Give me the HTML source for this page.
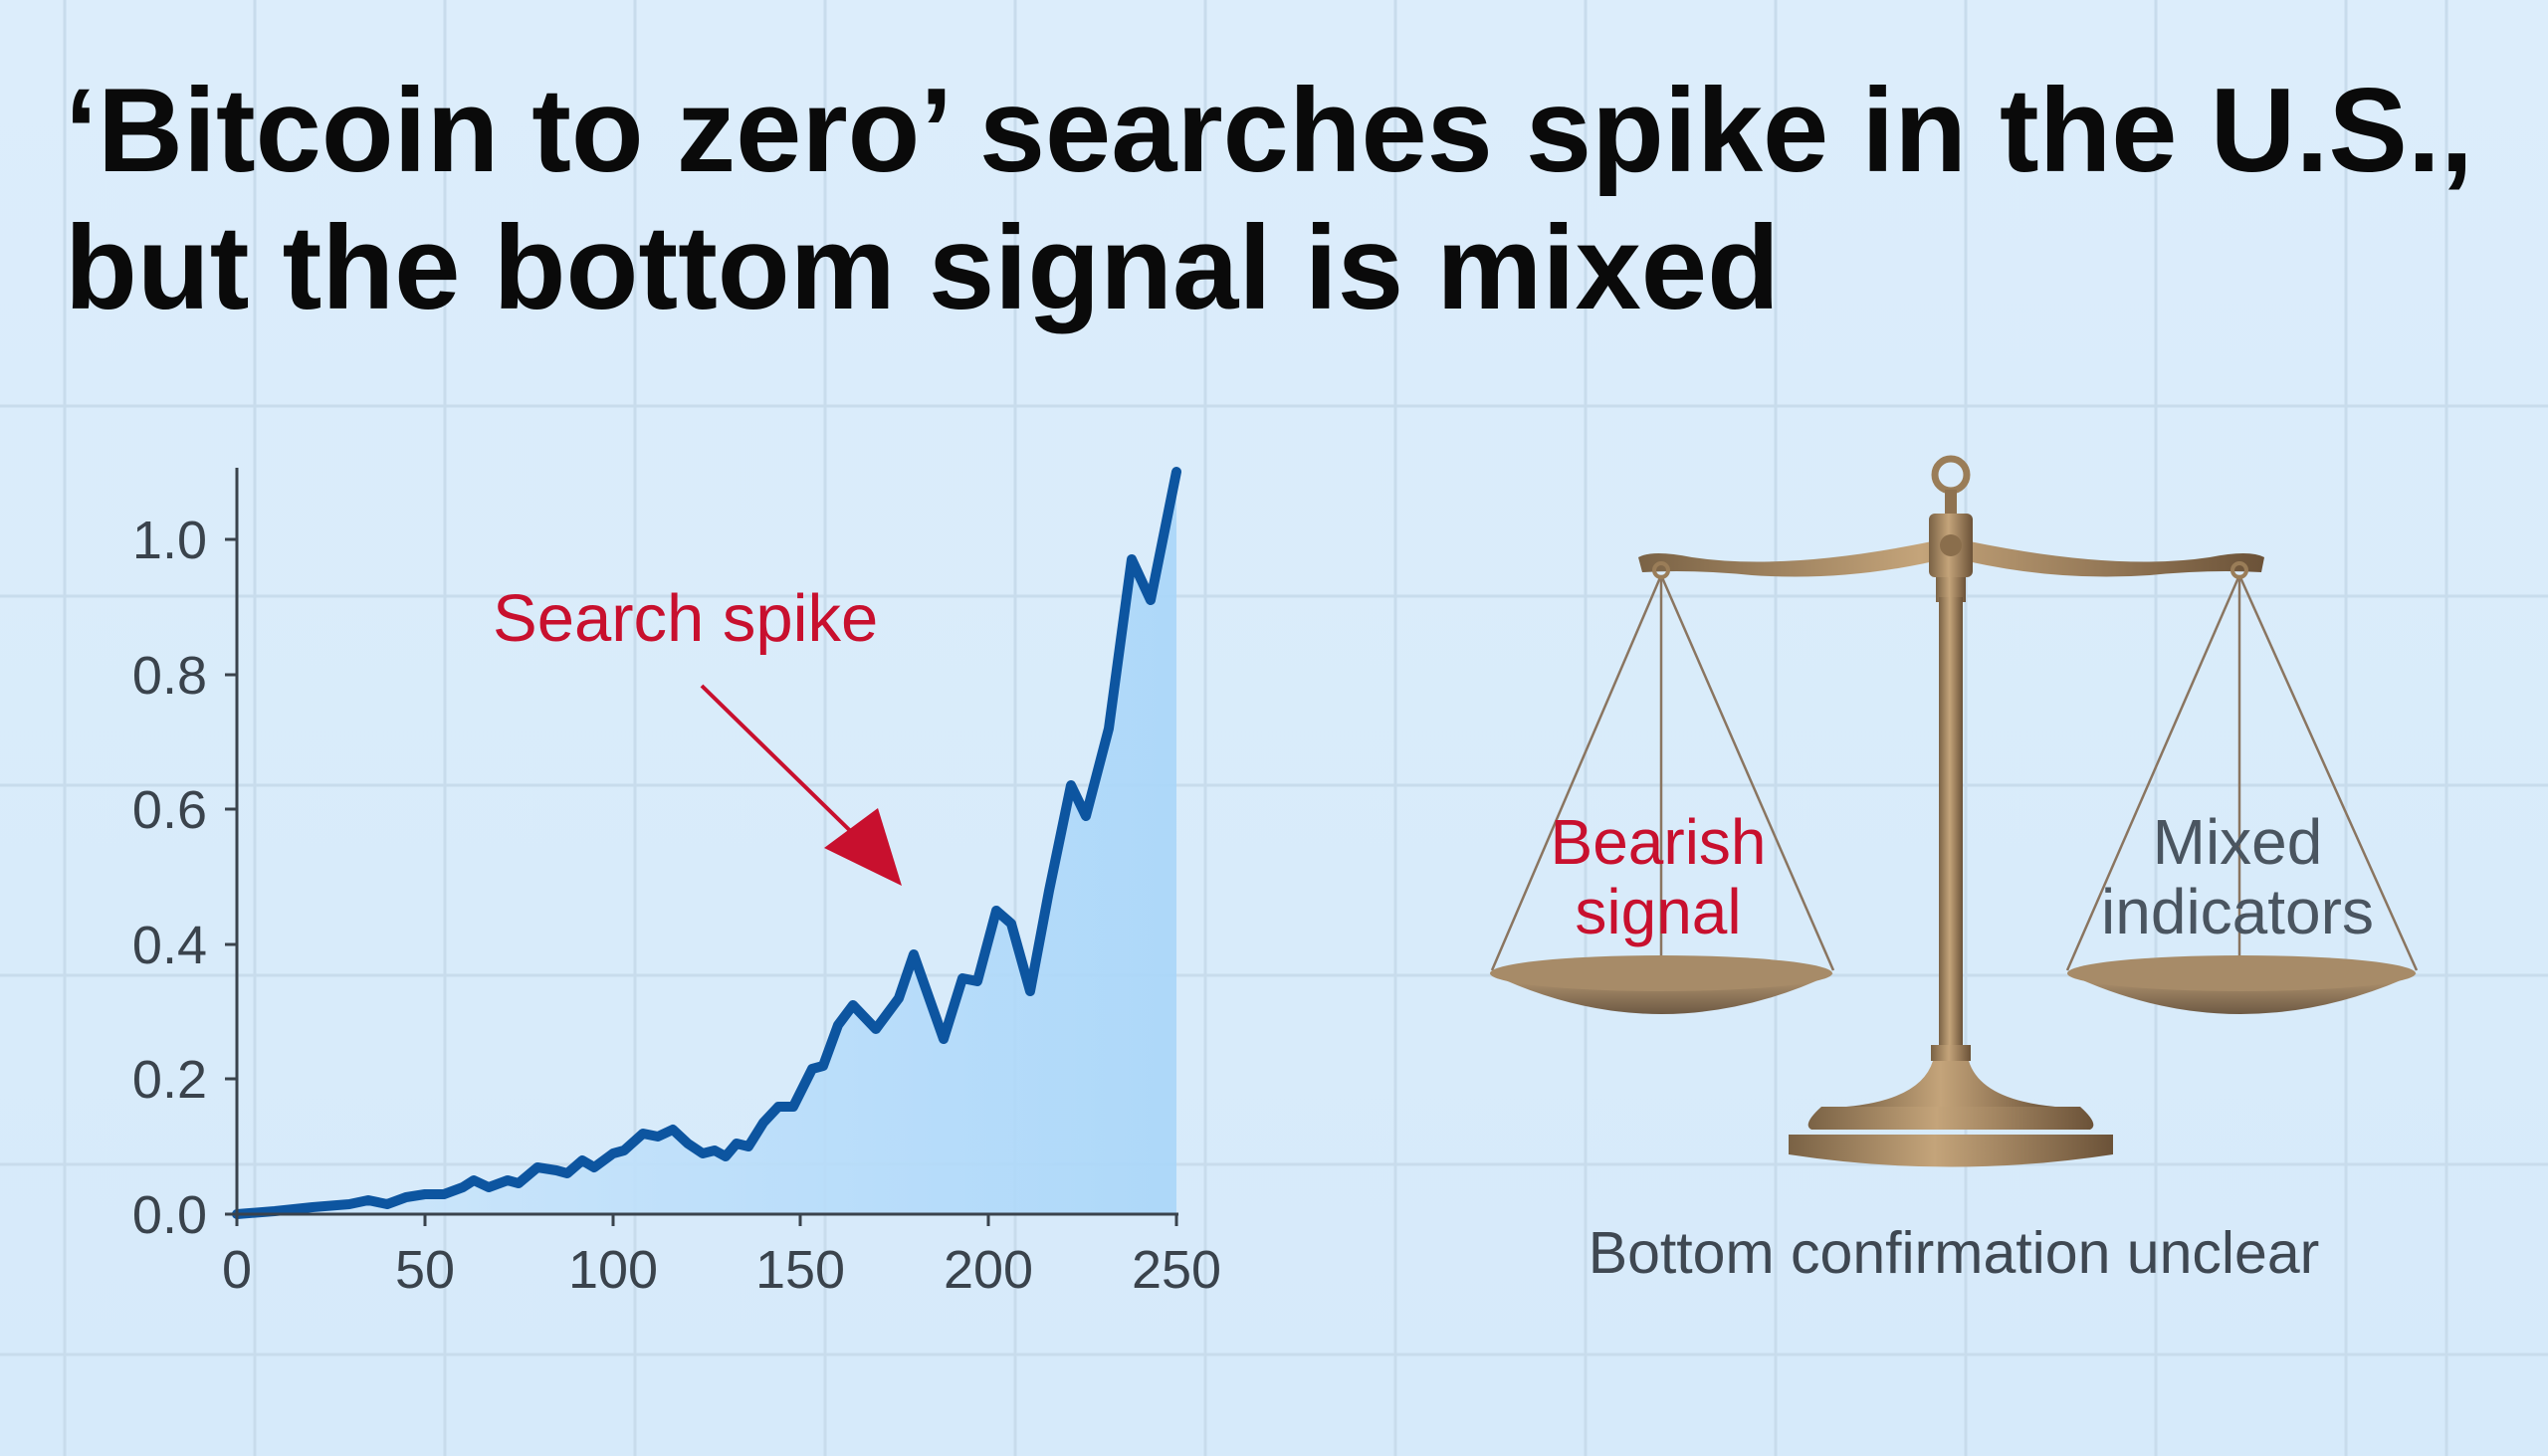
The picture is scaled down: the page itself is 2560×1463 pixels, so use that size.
<!DOCTYPE html>
<html><head><meta charset="utf-8"><style>
html,body{margin:0;padding:0;background:#d9ecfa;}
svg{display:block;}
text{font-family:"Liberation Sans",Arial,sans-serif;}
</style></head><body>
<svg width="2560" height="1463" viewBox="0 0 2560 1463" xmlns="http://www.w3.org/2000/svg">
<defs>
<linearGradient id="bg" x1="0" y1="0" x2="0" y2="1"><stop offset="0" stop-color="#dcedfb"/><stop offset="1" stop-color="#d6eafa"/></linearGradient>
<linearGradient id="fill" x1="0" y1="0" x2="1" y2="0"><stop offset="0" stop-color="#cfe7fb"/><stop offset="1" stop-color="#a9d6f9"/></linearGradient>
<linearGradient id="brass" x1="0" y1="0" x2="1" y2="0"><stop offset="0" stop-color="#7a6245"/><stop offset="0.45" stop-color="#c4a47a"/><stop offset="1" stop-color="#6b5238"/></linearGradient>
<linearGradient id="pan" x1="0" y1="0" x2="0" y2="1"><stop offset="0" stop-color="#b89a74"/><stop offset="1" stop-color="#6e5a44"/></linearGradient>
</defs>
<rect width="2560" height="1463" fill="url(#bg)"/>
<g stroke="#c8dcec" stroke-width="3">
<line x1="0" y1="408" x2="2560" y2="408"/><line x1="0" y1="599" x2="2560" y2="599"/><line x1="0" y1="789" x2="2560" y2="789"/><line x1="0" y1="980" x2="2560" y2="980"/><line x1="0" y1="1170" x2="2560" y2="1170"/><line x1="0" y1="1361" x2="2560" y2="1361"/>
<line x1="65" y1="0" x2="65" y2="1463"/><line x1="256" y1="0" x2="256" y2="1463"/><line x1="447" y1="0" x2="447" y2="1463"/><line x1="638" y1="0" x2="638" y2="1463"/><line x1="829" y1="0" x2="829" y2="1463"/><line x1="1020" y1="0" x2="1020" y2="1463"/><line x1="1211" y1="0" x2="1211" y2="1463"/><line x1="1402" y1="0" x2="1402" y2="1463"/><line x1="1593" y1="0" x2="1593" y2="1463"/><line x1="1784" y1="0" x2="1784" y2="1463"/><line x1="1975" y1="0" x2="1975" y2="1463"/><line x1="2166" y1="0" x2="2166" y2="1463"/><line x1="2357" y1="0" x2="2357" y2="1463"/><line x1="2458" y1="0" x2="2458" y2="1463"/>
</g>
<text x="65" y="172" font-size="120" font-weight="bold" fill="#0a0a0a" textLength="2420" lengthAdjust="spacingAndGlyphs">‘Bitcoin to zero’ searches spike in the U.S.,</text>
<text x="65" y="310" font-size="120" font-weight="bold" fill="#0a0a0a" textLength="1723" lengthAdjust="spacingAndGlyphs">but the bottom signal is mixed</text>

<polygon fill="url(#fill)" opacity="0.9" points="238,1220 276,1217 314,1213 351,1210 370,1206 389,1210 408,1203 427,1200 446,1200 465,1193 476,1186 491,1193 510,1186 521,1189 540,1173 559,1176 570,1179 585,1166 597,1173 616,1159 627,1156 646,1139 661,1142 676,1135 691,1149 706,1159 718,1156 729,1162 740,1149 752,1152 767,1128 782,1112 797,1112 816,1074 827,1071 842,1030 857,1010 880,1034 903,1003 918,959 948,1044 967,983 982,986 1001,915 1016,928 1035,996 1054,895 1076,789 1091,820 1114,732 1137,562 1156,603 1182,474 1182,1220"/>
<polyline fill="none" stroke="#0d55a0" stroke-width="10" stroke-linejoin="round" stroke-linecap="round" points="238,1220 276,1217 314,1213 351,1210 370,1206 389,1210 408,1203 427,1200 446,1200 465,1193 476,1186 491,1193 510,1186 521,1189 540,1173 559,1176 570,1179 585,1166 597,1173 616,1159 627,1156 646,1139 661,1142 676,1135 691,1149 706,1159 718,1156 729,1162 740,1149 752,1152 767,1128 782,1112 797,1112 816,1074 827,1071 842,1030 857,1010 880,1034 903,1003 918,959 948,1044 967,983 982,986 1001,915 1016,928 1035,996 1054,895 1076,789 1091,820 1114,732 1137,562 1156,603 1182,474"/>
<g stroke="#3a434c" stroke-width="3">
<line x1="238" y1="470" x2="238" y2="1222"/><line x1="236" y1="1220" x2="1184" y2="1220"/>
<line x1="226" y1="1220" x2="238" y2="1220"/><line x1="226" y1="1084" x2="238" y2="1084"/><line x1="226" y1="949" x2="238" y2="949"/><line x1="226" y1="813" x2="238" y2="813"/><line x1="226" y1="678" x2="238" y2="678"/><line x1="226" y1="542" x2="238" y2="542"/>
<line x1="238" y1="1220" x2="238" y2="1232"/><line x1="427" y1="1220" x2="427" y2="1232"/><line x1="616" y1="1220" x2="616" y2="1232"/><line x1="804" y1="1220" x2="804" y2="1232"/><line x1="993" y1="1220" x2="993" y2="1232"/><line x1="1182" y1="1220" x2="1182" y2="1232"/>
</g>
<g font-size="54" fill="#3a434c" text-anchor="end">
<text x="208" y="1239">0.0</text><text x="208" y="1103">0.2</text><text x="208" y="968">0.4</text><text x="208" y="832">0.6</text><text x="208" y="697">0.8</text><text x="208" y="561">1.0</text>
</g>
<g font-size="54" fill="#3a434c" text-anchor="middle">
<text x="238" y="1294">0</text><text x="427" y="1294">50</text><text x="616" y="1294">100</text><text x="804" y="1294">150</text><text x="993" y="1294">200</text><text x="1182" y="1294">250</text>
</g>
<text x="495" y="644" font-size="67" fill="#c8102e">Search spike</text>
<line x1="705" y1="689" x2="880" y2="860" stroke="#c8102e" stroke-width="4"/>
<polygon points="906,890 828,852 882,812" fill="#c8102e"/>

<g>
<circle cx="1960" cy="477" r="16" fill="none" stroke="#9a7d58" stroke-width="7"/>
<rect x="1954" y="492" width="12" height="30" fill="#8e7250"/>
<path d="M1646,560 Q1660,552 1700,560 Q1800,575 1960,540 Q2120,575 2220,560 Q2260,552 2275,560 L2272,575 Q2220,572 2160,578 Q2060,585 1960,560 Q1860,585 1760,578 Q1700,572 1650,575 Z" fill="url(#brass)"/>
<rect x="1938" y="516" width="44" height="64" rx="6" fill="url(#brass)"/>
<circle cx="1960" cy="548" r="11" fill="#8a6e4c"/>
<rect x="1945" y="580" width="30" height="25" fill="url(#brass)"/>
<rect x="1948" y="600" width="24" height="460" fill="url(#brass)"/>
<rect x="1940" y="1050" width="40" height="16" fill="url(#brass)"/>
<path d="M1942,1066 L1978,1066 Q1990,1105 2065,1112 L1855,1112 Q1930,1105 1942,1066 Z" fill="url(#brass)"/>
<path d="M1830,1112 L2090,1112 Q2110,1130 2100,1135 L1820,1135 Q1810,1130 1830,1112 Z" fill="url(#brass)"/>
<path d="M1797,1140 L2123,1140 L2123,1160 Q1960,1185 1797,1160 Z" fill="url(#brass)"/>
<g stroke="#8a7560" stroke-width="2.5" fill="none">
<line x1="1669" y1="578" x2="1499" y2="975"/><line x1="1669" y1="578" x2="1842" y2="975"/><line x1="1669" y1="578" x2="1669" y2="985"/>
<line x1="2250" y1="578" x2="2077" y2="975"/><line x1="2250" y1="578" x2="2428" y2="975"/><line x1="2250" y1="578" x2="2250" y2="985"/>
</g>
<circle cx="1669" cy="573" r="7" fill="none" stroke="#9a7d58" stroke-width="4"/>
<circle cx="2250" cy="573" r="7" fill="none" stroke="#9a7d58" stroke-width="4"/>
<path d="M1497,978 Q1669,1060 1842,978 Q1669,990 1497,978 Z" fill="url(#pan)"/>
<ellipse cx="1669" cy="978" rx="172" ry="18" fill="#a78b68"/>
<path d="M2077,978 Q2250,1060 2428,978 Q2250,990 2077,978 Z" fill="url(#pan)"/>
<ellipse cx="2252" cy="978" rx="175" ry="18" fill="#a78b68"/>
</g>
<g font-size="64" text-anchor="middle">
<text x="1666" y="868" fill="#c8102e">Bearish</text><text x="1666" y="938" fill="#c8102e">signal</text>
<text x="2248" y="868" fill="#4a5560">Mixed</text><text x="2248" y="938" fill="#4a5560">indicators</text>
</g>
<text x="1963" y="1279" font-size="59" fill="#3f4852" text-anchor="middle">Bottom confirmation unclear</text>
</svg>
</body></html>
